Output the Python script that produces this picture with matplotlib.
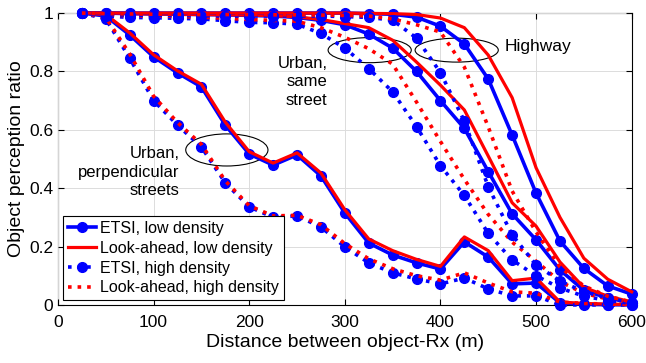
import numpy as np
import matplotlib
matplotlib.use("Agg")
import matplotlib.pyplot as plt
from matplotlib.patches import Ellipse

# distance between object and receiver (m)
dist = [25, 50, 75, 100, 125, 150, 175, 200, 225, 250, 275, 300,
        325, 350, 375, 400, 425, 450, 475, 500, 525, 550, 575, 600]

# Urban, perpendicular streets
perp_etsi_low = [1.0, 0.99, 0.925, 0.85, 0.795, 0.747, 0.616, 0.517, 0.479, 0.514, 0.442, 0.315,
                 0.212, 0.171, 0.144, 0.123, 0.216, 0.164, 0.072, 0.075, 0.007, 0.002, 0.001, 0.0]
perp_la_low = [1.0, 0.995, 0.932, 0.857, 0.802, 0.756, 0.626, 0.525, 0.486, 0.521, 0.452, 0.326,
               0.226, 0.186, 0.156, 0.132, 0.233, 0.186, 0.083, 0.092, 0.01, 0.005, 0.003, 0.001]
perp_etsi_high = [1.0, 0.98, 0.845, 0.70, 0.616, 0.541, 0.418, 0.336, 0.30, 0.305, 0.267, 0.199,
                  0.144, 0.11, 0.089, 0.072, 0.092, 0.055, 0.031, 0.031, 0.0, 0.0, 0.0, 0.0]
perp_la_high = [1.0, 0.985, 0.86, 0.715, 0.625, 0.55, 0.425, 0.34, 0.305, 0.307, 0.275, 0.21,
                0.158, 0.124, 0.10, 0.085, 0.11, 0.075, 0.045, 0.04, 0.01, 0.005, 0.003, 0.001]

# Urban, same street
same_etsi_low = [1.0, 1.0, 0.998, 0.997, 0.996, 0.995, 0.994, 0.992, 0.99, 0.985, 0.975, 0.96,
                 0.928, 0.88, 0.80, 0.70, 0.605, 0.457, 0.312, 0.223, 0.12, 0.05, 0.024, 0.007]
same_la_low = [1.0, 1.0, 0.998, 0.997, 0.996, 0.995, 0.994, 0.993, 0.991, 0.987, 0.978, 0.964,
               0.95, 0.907, 0.832, 0.753, 0.668, 0.51, 0.35, 0.27, 0.147, 0.06, 0.03, 0.01]
same_etsi_high = [1.0, 0.99, 0.985, 0.984, 0.982, 0.98, 0.974, 0.968, 0.967, 0.962, 0.93, 0.88,
                  0.81, 0.73, 0.611, 0.477, 0.375, 0.245, 0.154, 0.10, 0.058, 0.03, 0.015, 0.005]
same_la_high = [1.0, 0.995, 0.99, 0.99, 0.988, 0.986, 0.982, 0.978, 0.975, 0.972, 0.95, 0.917,
                0.878, 0.825, 0.695, 0.56, 0.43, 0.31, 0.215, 0.15, 0.08, 0.04, 0.02, 0.01]

# Highway
hwy_etsi_low = [1.0, 1.0, 1.0, 1.0, 1.0, 1.0, 1.0, 1.0, 1.0, 1.0, 1.0, 1.0,
                0.998, 0.996, 0.986, 0.955, 0.894, 0.774, 0.582, 0.383, 0.219, 0.125, 0.065, 0.037]
hwy_la_low = [1.0, 1.0, 1.0, 1.0, 1.0, 1.0, 1.0, 1.0, 1.0, 1.0, 1.0, 1.0,
              0.999, 0.998, 0.995, 0.983, 0.95, 0.856, 0.71, 0.47, 0.30, 0.16, 0.088, 0.045]
hwy_etsi_high = [1.0, 0.995, 0.993, 0.992, 0.992, 0.991, 0.99, 0.99, 0.99, 0.99, 0.99, 0.988,
                 0.985, 0.976, 0.914, 0.796, 0.63, 0.405, 0.24, 0.137, 0.082, 0.045, 0.024, 0.007]
hwy_la_high = [1.0, 0.998, 0.997, 0.996, 0.996, 0.995, 0.995, 0.995, 0.994, 0.994, 0.993, 0.992,
               0.99, 0.98, 0.96, 0.935, 0.815, 0.61, 0.39, 0.25, 0.13, 0.065, 0.03, 0.01]

xticks = [0, 100, 200, 300, 400, 500, 600]
yticks = [0, 0.2, 0.4, 0.6, 0.8, 1.0]
yticklabels = ["0", "0.2", "0.4", "0.6", "0.8", "1"]

plt.rcParams['font.family'] = ['Liberation Sans', 'DejaVu Sans']

fig = plt.figure(figsize=(6.46, 3.63), dpi=100)
ax = fig.add_axes([0.0898, 0.16, 0.888, 0.804])

blue = (0, 0, 1)
red = (1, 0, 0)
styles = [
    dict(color=blue, ls='-', lw=2.6, marker='o', ms=7, label='ETSI, low density'),
    dict(color=red, ls='-', lw=2.3, label='Look-ahead, low density'),
    dict(color=blue, ls=':', lw=2.6, marker='o', ms=7, label='ETSI, high density'),
    dict(color=red, ls=':', lw=2.6, label='Look-ahead, high density'),
]
groups = [
    [perp_etsi_low, perp_la_low, perp_etsi_high, perp_la_high],
    [same_etsi_low, same_la_low, same_etsi_high, same_la_high],
    [hwy_etsi_low, hwy_la_low, hwy_etsi_high, hwy_la_high],
]
for gi, series in enumerate(groups):
    for st, y in zip(styles, series):
        kw = dict(st)
        if gi > 0:
            kw.pop('label')
        ax.plot(dist, y, clip_on=False, **kw)

# annotations
ax.add_patch(Ellipse((176.6, 0.531), 86, 0.11, fill=False, ec='black', lw=0.8))
ax.add_patch(Ellipse((326, 0.873), 87, 0.086, fill=False, ec='black', lw=0.8))
ax.add_patch(Ellipse((417, 0.873), 87, 0.082, fill=False, ec='black', lw=0.8))
ax.text(127, 0.455, "Urban,\nperpendicular\nstreets", ha='right', va='center',
        fontsize=12, linespacing=1.3)
ax.text(282, 0.764, "Urban,\nsame\nstreet", ha='right', va='center',
        fontsize=12, linespacing=1.3)
ax.text(467, 0.884, "Highway", ha='left', va='center', fontsize=12.5)

ax.set_xlim(0, 600)
ax.set_ylim(0, 1)
ax.set_xticks(xticks)
ax.set_yticks(yticks)
ax.set_yticklabels(yticklabels)
ax.tick_params(direction='in', top=True, right=True, labelsize=12.5, length=4)
ax.tick_params(axis='x', pad=7)
ax.grid(True, color='#dcdcdc', lw=0.7)
ax.set_axisbelow(True)
for s in ax.spines.values():
    s.set_linewidth(0.8)
    s.set_zorder(0.5)
ax.set_xlabel("Distance between object-Rx (m)", fontsize=14, labelpad=3)
ax.set_ylabel("Object perception ratio", fontsize=14, labelpad=3)

leg = ax.legend(loc='lower left', fontsize=11.5, handlelength=1.8, handletextpad=0.25,
                borderpad=0.3, labelspacing=0.3, borderaxespad=0.3, fancybox=False,
                framealpha=1, edgecolor='black')
leg.get_frame().set_linewidth(0.8)

fig.savefig("out.png", dpi=100)
